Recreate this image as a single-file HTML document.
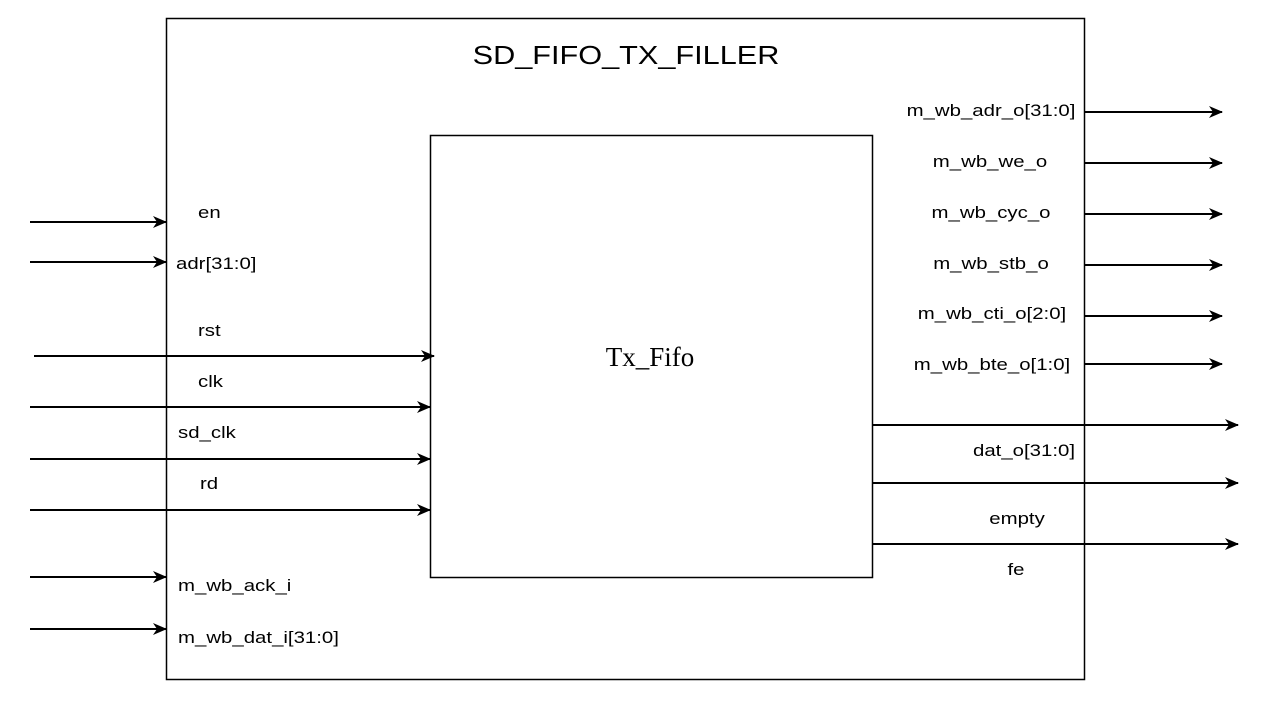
<!DOCTYPE html>
<html><head><style>html,body{margin:0;padding:0;background:#fff;}</style></head>
<body>
<svg width="1270" height="698" xmlns="http://www.w3.org/2000/svg">
<defs><marker id="a" markerWidth="14" markerHeight="12" refX="13" refY="6" orient="auto" markerUnits="userSpaceOnUse"><path d="M0,0 L14,6 L0,12 L4,6 z" fill="#000"/></marker></defs>
<rect x="166.5" y="18.5" width="918" height="661" fill="#fff" stroke="#000" stroke-width="1.5"/>
<rect x="430.5" y="135.5" width="442" height="442" fill="#fff" stroke="#000" stroke-width="1.5"/>
<text transform="translate(626,64) scale(1.18,1)" font-family="Liberation Sans, sans-serif" font-size="26" text-anchor="middle">SD_FIFO_TX_FILLER</text>
<text x="650" y="366" font-family="Liberation Serif, serif" font-size="27" text-anchor="middle">Tx_Fifo</text>
<g stroke="#000" stroke-width="2" marker-end="url(#a)">
<line x1="30" y1="222" x2="166" y2="222"/>
<line x1="30" y1="262" x2="166" y2="262"/>
<line x1="34" y1="356" x2="434" y2="356"/>
<line x1="30" y1="407" x2="430" y2="407"/>
<line x1="30" y1="459" x2="430" y2="459"/>
<line x1="30" y1="510" x2="430" y2="510"/>
<line x1="30" y1="577" x2="166" y2="577"/>
<line x1="30" y1="629" x2="166" y2="629"/>
<line x1="1085" y1="112" x2="1222" y2="112"/>
<line x1="1085" y1="163" x2="1222" y2="163"/>
<line x1="1085" y1="214" x2="1222" y2="214"/>
<line x1="1085" y1="265" x2="1222" y2="265"/>
<line x1="1085" y1="316" x2="1222" y2="316"/>
<line x1="1085" y1="364" x2="1222" y2="364"/>
<line x1="873" y1="425" x2="1238" y2="425"/>
<line x1="873" y1="483" x2="1238" y2="483"/>
<line x1="873" y1="544" x2="1238" y2="544"/>
</g>
<g font-family="Liberation Sans, sans-serif" font-size="17">
<text transform="translate(198,218) scale(1.2,1)">en</text>
<text transform="translate(176,269) scale(1.2,1)">adr[31:0]</text>
<text transform="translate(198,336) scale(1.2,1)">rst</text>
<text transform="translate(198,387) scale(1.2,1)">clk</text>
<text transform="translate(178,438) scale(1.2,1)">sd_clk</text>
<text transform="translate(200,489) scale(1.2,1)">rd</text>
<text transform="translate(178,591) scale(1.2,1)">m_wb_ack_i</text>
<text transform="translate(178,643) scale(1.2,1)">m_wb_dat_i[31:0]</text>
</g>
<g font-family="Liberation Sans, sans-serif" font-size="17" text-anchor="middle">
<text transform="translate(991,116) scale(1.2,1)">m_wb_adr_o[31:0]</text>
<text transform="translate(990,167) scale(1.2,1)">m_wb_we_o</text>
<text transform="translate(991,218) scale(1.2,1)">m_wb_cyc_o</text>
<text transform="translate(991,269) scale(1.2,1)">m_wb_stb_o</text>
<text transform="translate(992,319) scale(1.2,1)">m_wb_cti_o[2:0]</text>
<text transform="translate(992,370) scale(1.2,1)">m_wb_bte_o[1:0]</text>
<text transform="translate(1024,456) scale(1.2,1)">dat_o[31:0]</text>
<text transform="translate(1017,524) scale(1.2,1)">empty</text>
<text transform="translate(1016,575) scale(1.2,1)">fe</text>
</g>
</svg>
</body></html>
